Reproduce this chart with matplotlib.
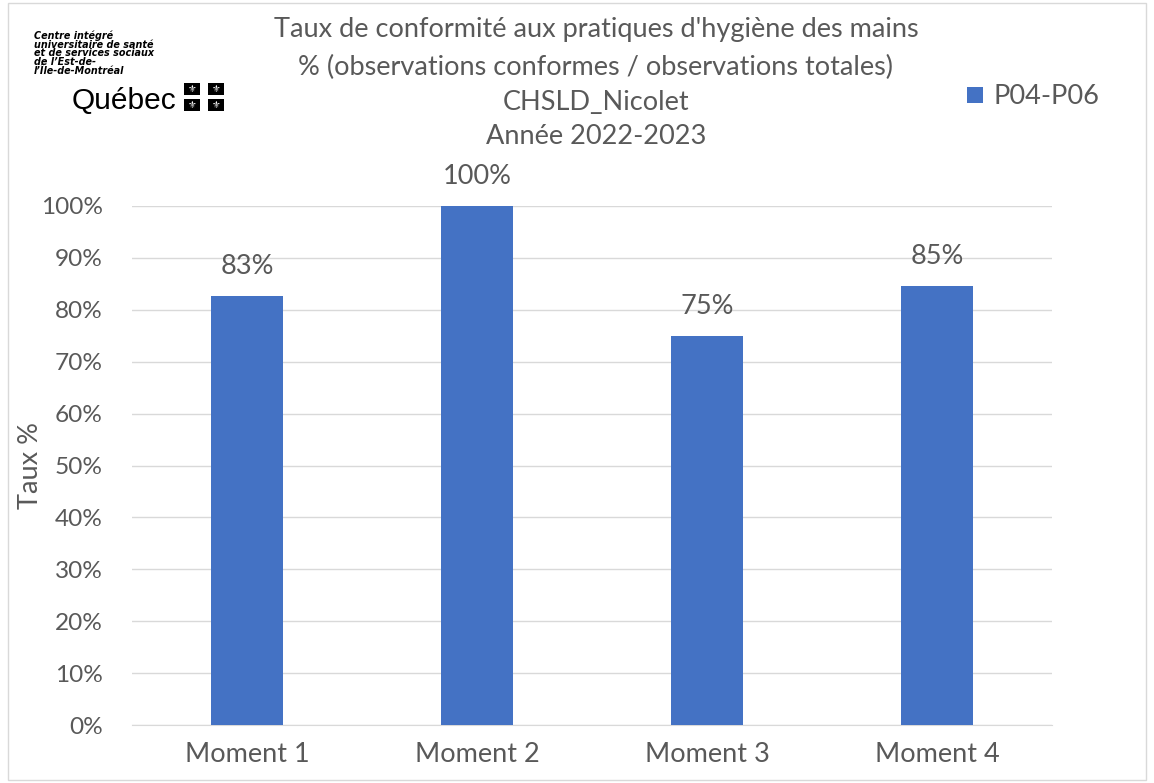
import matplotlib
matplotlib.use("Agg")
import matplotlib.pyplot as plt
from matplotlib.patches import Rectangle
from matplotlib.ticker import PercentFormatter, MultipleLocator

categories = ["Moment 1", "Moment 2", "Moment 3", "Moment 4"]
values = [82.7, 100.0, 75.0, 84.6]
labels = ["83%", "100%", "75%", "85%"]
series_name = "P04-P06"
title_lines = ["Taux de conformité aux pratiques d'hygiène des mains",
               "% (observations conformes / observations totales)",
               "CHSLD_Nicolet",
               "Année 2022-2023"]

plt.rcParams['font.family'] = ['Lato', 'DejaVu Sans']
TXT = "#595959"
BLUE = "#4472C4"
FS = 19.5

W, H = 1154, 783
fig = plt.figure(figsize=(W/100, H/100), dpi=100)
fig.patch.set_facecolor("white")

# border
fig.patches.append(Rectangle((8/W, 3/H), (W-16)/W, (H-6)/H, transform=fig.transFigure,
                             fill=False, edgecolor="#d9d9d9", linewidth=1))

ax = fig.add_axes([132/W, 1-725/H, (1052-132)/W, (725-206)/H])
x = range(len(categories))
ax.bar(x, values, width=0.313, color=BLUE, zorder=3)
ax.set_xlim(-0.5, len(categories)-0.5)
ax.set_ylim(0, 100)
ax.yaxis.set_major_locator(MultipleLocator(10))
ax.yaxis.set_major_formatter(PercentFormatter(decimals=0))
ax.set_xticks(list(x))
ax.set_xticklabels(categories)
ax.tick_params(axis='both', length=0, colors=TXT)
ax.tick_params(axis='x', pad=12, labelsize=FS)
ax.tick_params(axis='y', pad=21, labelsize=17.6)
ax.grid(axis='y', color="#d9d9d9", linewidth=1, zorder=0)
for s in ['top', 'right', 'left']:
    ax.spines[s].set_visible(False)
ax.spines['bottom'].set_color("#d9d9d9")
for xi, v, lab in zip(x, values, labels):
    ax.annotate(lab, (xi, v), xytext=(0, 12), textcoords='offset points',
                ha='center', va='bottom', fontsize=FS, color=TXT, annotation_clip=False)

fig.text(31/W, 1-466/H, "Taux %", rotation=90, ha='center', va='center',
         fontsize=FS, color=TXT)

# title
ys = [30, 67, 102, 137]
for t, yy in zip(title_lines, ys):
    fig.text(596/W, 1-yy/H, t, ha='center', va='center', fontsize=FS, color=TXT)

# legend
fig.patches.append(Rectangle((967/W, 1-103/H), 16/W, 16/H, transform=fig.transFigure,
                             facecolor=BLUE, edgecolor='none'))
fig.text(993/W, 1-96/H, series_name, ha='left', va='center', fontsize=FS, color=TXT)

# logo
logo_lines = ["Centre intégré", "universitaire de santé", "et de services sociaux",
              "de l’Est-de-", "l’Île-de-Montréal"]
for i, t in enumerate(logo_lines):
    fig.text(34/W, 1-(36+i*8.7)/H, t, ha='left', va='center', fontsize=6.9,
             fontweight='bold', style='italic', color='black', family=['DejaVu Sans'])
fig.text(72/W, 1-101/H, "Québec", ha='left', va='center', fontsize=21.5, color='black',
         family=['Liberation Sans'])
for cx, cy in [(192, 89), (216, 89), (192, 105), (216, 105)]:
    fig.patches.append(Rectangle(((cx-8)/W, 1-(cy+6)/H), 16/W, 12/H, transform=fig.transFigure,
                                 facecolor='black', edgecolor='none'))
    fig.text(cx/W, 1-cy/H, "⚜", ha='center', va='center', fontsize=7, color='white',
             family=['DejaVu Sans'])

fig.savefig("out.png", dpi=100, facecolor="white")
